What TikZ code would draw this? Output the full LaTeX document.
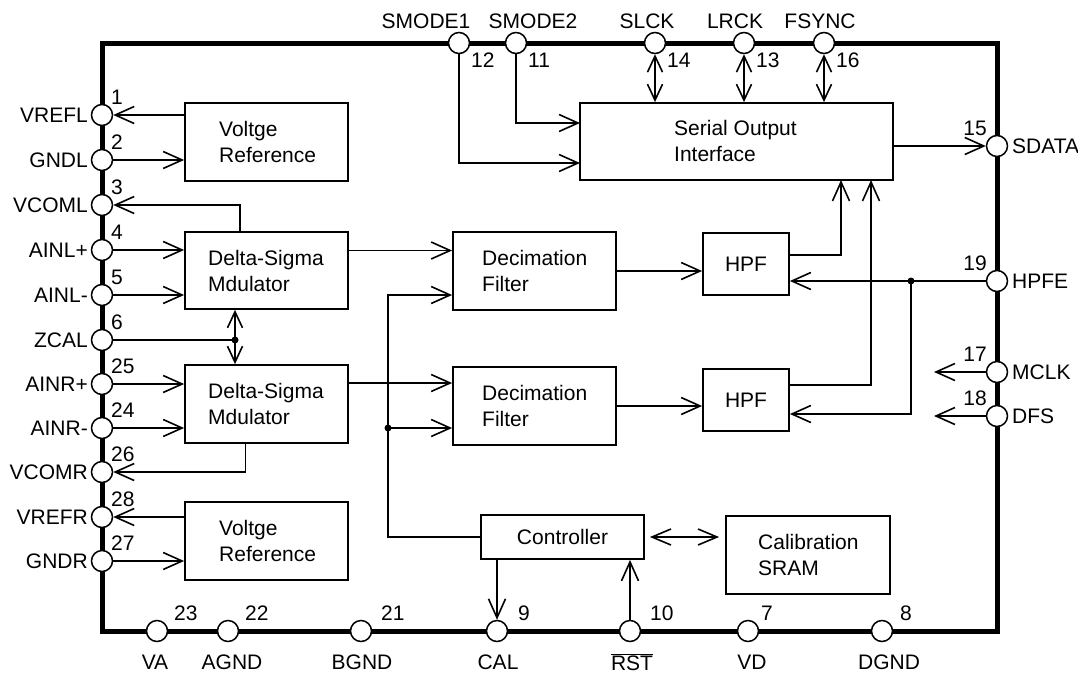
\documentclass[tikz,border=0pt]{standalone}
\usepackage{fontspec}
\setmainfont{Liberation Sans}
\usetikzlibrary{arrows.meta,calc}
\begin{document}
\begin{tikzpicture}[x=1pt,y=-1pt,
  every node/.style={font=\fontsize{21}{26}\selectfont, inner sep=0pt},
  pin/.style={circle, draw, fill=white, minimum size=21pt, line width=1.5pt},
  blk/.style={draw, line width=1.8pt, rectangle, inner sep=0pt},
  wire/.style={line width=1.6pt},
  arr/.style={wire, -{Straight Barb[length=19pt,width=17pt]}},
  darr/.style={wire, {Straight Barb[length=16pt,width=15pt]}-{Straight Barb[length=16pt,width=15pt]}},
  jdot/.style={circle, fill, minimum size=7pt, inner sep=0pt},
  txt/.style={anchor=west, align=left},
]
\useasboundingbox (0,0) rectangle (1078,675);
% chip outline
\draw[line width=5pt] (102,43) rectangle (997,631);

% blocks
\node[blk, minimum width=163pt, minimum height=78pt] (vr1) at (266.5,142) {};
\node[blk, minimum width=163pt, minimum height=78pt] (vr2) at (266.5,541) {};
\node[blk, minimum width=163pt, minimum height=77pt] (dsm1) at (266.5,270.5) {};
\node[blk, minimum width=163pt, minimum height=78pt] (dsm2) at (266.5,404) {};
\node[blk, minimum width=163pt, minimum height=78pt] (df1) at (534.5,271) {};
\node[blk, minimum width=163pt, minimum height=78pt] (df2) at (534.5,406) {};
\node[blk, minimum width=86pt, minimum height=62pt] (hpf1) at (746,264) {};
\node[blk, minimum width=86pt, minimum height=62pt] (hpf2) at (746,400) {};
\node[blk, minimum width=313pt, minimum height=77pt] (soi) at (736.5,141.5) {};
\node[blk, minimum width=163pt, minimum height=44pt] (ctl) at (562.5,537) {};
\node[blk, minimum width=164pt, minimum height=78pt] (sram) at (808,555) {};

% block texts
\node[txt] (tvr1) at (219,142) {Voltge\\Reference};
\node[txt] (tvr2) at (219,541) {Voltge\\Reference};
\node[txt] (tdsm1) at (208,270.5) {Delta-Sigma\\Mdulator};
\node[txt] (tdsm2) at (208,404) {Delta-Sigma\\Mdulator};
\node[txt] (tdf1) at (482,271) {Decimation\\Filter};
\node[txt] (tdf2) at (482,406) {Decimation\\Filter};
\node (thpf1) at (746,264) {HPF};
\node (thpf2) at (746,400) {HPF};
\node[txt] (tsoi) at (674,141) {Serial Output\\Interface};
\node (tctl) at (562.5,537) {Controller};
\node[txt] (tsram) at (758,555) {Calibration\\SRAM};

% pins left
\foreach \n/\y/\lab in {1/115/VREFL, 2/160/GNDL, 3/205/VCOML, 4/250/AINL+, 5/295/AINL-, 6/340/ZCAL, 25/384/AINR+, 24/428/AINR-, 26/472/VCOMR, 28/517/VREFR, 27/561/GNDR}{
  \node[pin] (p\n) at (102,\y) {};
  \node[anchor=east] (l\n) at ([xshift=-14pt]p\n.center) {\lab};
  \node[anchor=west] (n\n) at ([xshift=9pt,yshift=18pt]p\n.center) {\n};
}
% pins top
\foreach \n/\x/\dx/\lab in {12/459/-33/SMODE1, 11/516/17/SMODE2, 14/655/-8/SLCK, 13/744/-9/LRCK, 16/824/-4/FSYNC}{
  \node[pin] (p\n) at (\x,43) {};
  \node (l\n) at ([xshift=\dx pt,yshift=22pt]p\n.center) {\lab};
  \node[anchor=west] (n\n) at ([xshift=12pt,yshift=-17pt]p\n.center) {\n};
}
% pins bottom
\foreach \n/\x/\dx/\ndx/\lab in {23/157/-2/17/VA, 22/228/4/17/AGND, 21/361/1/20/BGND, 9/497/1/21/CAL, 10/630/2/20/$\overline{\mbox{RST}}$, 7/748/4/13/VD, 8/882/7/18/DGND}{
  \node[pin] (p\n) at (\x,631) {};
  \node (l\n) at ([xshift=\dx pt,yshift=-31pt]p\n.center) {\lab};
  \node[anchor=west] (n\n) at ([xshift=\ndx pt,yshift=18pt]p\n.center) {\n};
}
% pins right
\foreach \n/\y/\lab in {15/146/SDATA, 19/281/HPFE, 17/372/MCLK, 18/416/DFS}{
  \node[pin] (p\n) at (997,\y) {};
  \node[anchor=west] (l\n) at ([xshift=15pt]p\n.center) {\lab};
  \node[anchor=east] (n\n) at ([xshift=-10pt,yshift=18pt]p\n.center) {\n};
}

% left side connections
\draw[arr] (vr1.west |- p1) -- (p1);
\draw[arr] (p2) -- (p2 -| vr1.west);
\draw[arr] ([xshift=-26.5pt]dsm1.north) |- (p3);
\draw[arr] (p4) -- (p4 -| dsm1.west);
\draw[arr] (p5) -- (p5 -| dsm1.west);
\node[jdot] (j3) at (235,340) {};
\draw[wire] (p6) -- (j3.center);
\draw[darr] (dsm1.south -| j3) -- (dsm2.north -| j3);
\draw[arr] (p25) -- (p25 -| dsm2.west);
\draw[arr] (p24) -- (p24 -| dsm2.west);
\draw[arr] ([xshift=-21pt]dsm2.south) |- (p26);
\draw[arr] (vr2.west |- p28) -- (p28);
\draw[arr] (p27) -- (p27 -| vr2.west);

% DSM -> DF
\draw[arr] ([yshift=20pt]dsm1.east) -- ([yshift=20pt]dsm1.east -| df1.west);
\draw[arr] ([yshift=21pt]dsm2.east) -- ([yshift=21pt]dsm2.east -| df2.west);
% controller lines
\coordinate (c1) at (388,295);
\draw[arr] (ctl.west) -| (c1) -- (c1 -| df1.west);
\node[jdot] (j2) at (388,428) {};
\draw[arr] (j2.center) -- (j2 -| df2.west);
% DF -> HPF
\draw[arr] (df1.east) -- (df1.east -| hpf1.west);
\draw[arr] (df2.east) -- (df2.east -| hpf2.west);
% HPF -> SOI
\coordinate (h1) at (841,180);
\coordinate (h2) at (871,180);
\draw[arr] ([yshift=9pt]hpf1.east) -| (h1);
\draw[arr] ([yshift=15pt]hpf2.east) -| (h2);
% HPFE
\draw[arr] (p19) -- (p19 -| hpf1.east);
\node[jdot] (j1) at (911,281) {};
\draw[arr] (j1.center) |- ([yshift=-14pt]hpf2.east);
% MCLK, DFS
\coordinate (mclkend) at (934,372);
\coordinate (dfsend) at (934,416);
\draw[arr] (p17) -- (mclkend);
\draw[arr] (p18) -- (dfsend);
% SDATA
\draw[arr] (soi.east |- p15) -- (p15);
% SMODE
\coordinate (s1in) at (580,163);
\coordinate (s2in) at (580,123);
\draw[arr] (p12) |- (s1in);
\draw[arr] (p11) |- (s2in);
% clocks
\draw[darr] (p14) -- (p14 |- soi.north);
\draw[darr] (p13) -- (p13 |- soi.north);
\draw[darr] (p16) -- (p16 |- soi.north);
% controller <-> sram
\draw[wire, {Straight Barb[length=19pt,width=16pt]}-{Straight Barb[length=19pt,width=16pt]}] ([xshift=5pt]ctl.east) -- ([xshift=-6pt]sram.west |- ctl.east);
% CAL, RST
\draw[arr] (ctl.south -| p9) -- (p9);
\draw[arr] (p10) -- (p10 |- ctl.south);
\end{tikzpicture}
\end{document}
